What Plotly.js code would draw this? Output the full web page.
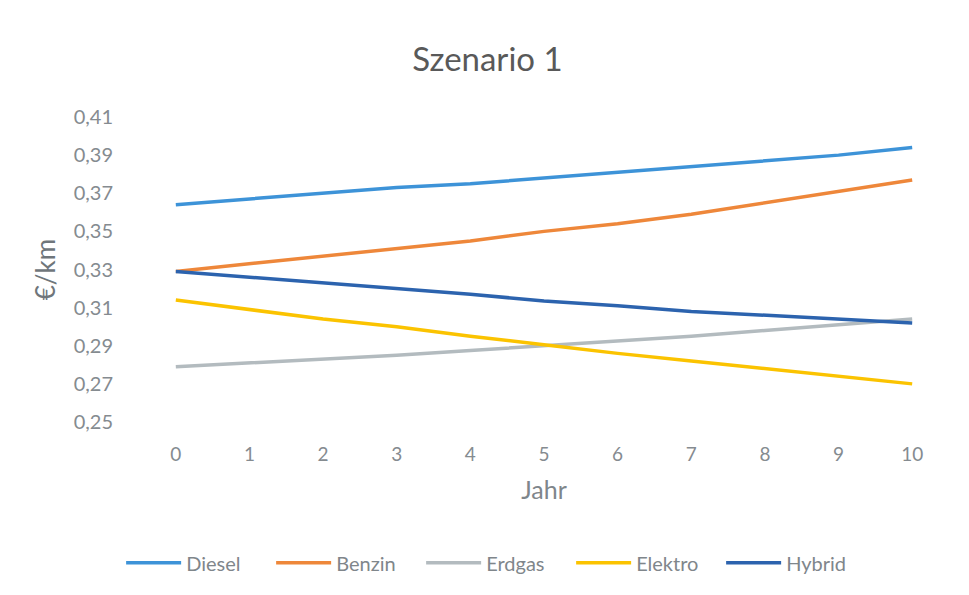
<!DOCTYPE html>
<html>
<head>
<meta charset="utf-8">
<script src="https://cdn.plot.ly/plotly-3.0.1.min.js"></script>
<style>html,body{margin:0;padding:0;background:#fff}#chart{width:969px;height:595px}</style>
</head>
<body>
<div id="chart"></div>
<script>
const years = [0,1,2,3,4,5,6,7,8,9,10];
const diesel  = [0.364,0.367,0.370,0.373,0.375,0.378,0.381,0.384,0.387,0.390,0.394];
const benzin  = [0.329,0.333,0.337,0.341,0.345,0.350,0.354,0.359,0.365,0.371,0.377];
const erdgas  = [0.279,0.281,0.283,0.285,0.2875,0.290,0.2925,0.295,0.298,0.301,0.304];
const elektro = [0.314,0.309,0.304,0.300,0.295,0.2905,0.286,0.282,0.278,0.274,0.270];
const hybrid  = [0.329,0.326,0.323,0.320,0.317,0.3135,0.311,0.308,0.306,0.304,0.302];
const yTicks = [0.25,0.27,0.29,0.31,0.33,0.35,0.37,0.39,0.41];
const yTickText = ['0,25','0,27','0,29','0,31','0,33','0,35','0,37','0,39','0,41'];

const series = [
  {name:'Diesel', y:diesel, color:'#3d93d8'},
  {name:'Benzin', y:benzin, color:'#ee873a'},
  {name:'Erdgas', y:erdgas, color:'#b3bbbf'},
  {name:'Elektro', y:elektro, color:'#fbc300'},
  {name:'Hybrid', y:hybrid, color:'#2c63ae'}
];
const traces = series.map(s => ({
  x: years, y: s.y, name: s.name, type: 'scatter', mode: 'lines',
  line: {color: s.color, width: 3.5}
}));
const font = 'Lato, "Open Sans", sans-serif';
const layout = {
  width: 969, height: 595,
  margin: {l: 139, r: 20, t: 117, b: 173},
  paper_bgcolor: '#fff', plot_bgcolor: '#fff',
  font: {family: font, color: '#7f868b'},
  showlegend: true,
  title: {text: 'Szenario 1', x: 0.503, xanchor: 'center', y: 0.9, yref: 'container', yanchor: 'middle',
          font: {family: font, size: 33, color: '#595959'}},
  xaxis: {
    range: [-0.5, 10.5], tickvals: years, ticktext: years.map(String),
    showgrid: false, zeroline: false, showline: false, ticks: '',
    ticklabelstandoff: 19,
    tickfont: {size: 19, color: '#858b90'},
    title: {text: 'Jahr', font: {size: 25, color: '#7f868b'}, standoff: 17},
    automargin: false, fixedrange: true
  },
  yaxis: {
    range: [0.25, 0.41], tickvals: yTicks, ticktext: yTickText,
    showgrid: false, zeroline: false, showline: false, ticks: '',
    ticklabelstandoff: 25,
    tickfont: {size: 20, color: '#858b90'},
    title: {text: '€/km', font: {size: 26, color: '#6f767b'}, standoff: 10},
    automargin: false, fixedrange: true
  },
  legend: {
    orientation: 'h', xref: 'container', yref: 'container',
    x: 0.512, xanchor: 'center', y: 0.054, yanchor: 'middle',
    font: {size: 20, color: '#7f868b'}, itemwidth: 55, tracegroupgap: 0,
    entrywidth: 80, entrywidthmode: 'pixels',
    bgcolor: 'rgba(0,0,0,0)'
  }
};
Plotly.newPlot('chart', traces, layout, {staticPlot: true, displayModeBar: false});
</script>
</body>
</html>
